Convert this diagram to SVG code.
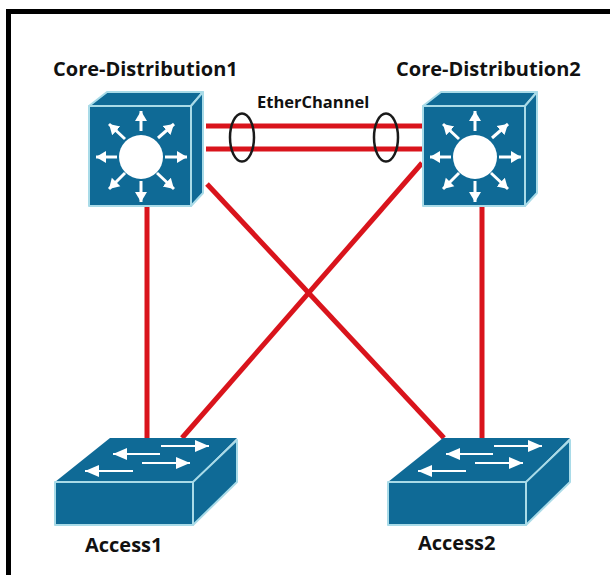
<svg xmlns="http://www.w3.org/2000/svg" width="610" height="575" viewBox="0 0 610 575">
<style>
.bg{fill:#fff}
.frame{fill:none;stroke:#000;stroke-width:5}
.b{fill:#0f6a96;stroke:#a9dbe8;stroke-width:2;stroke-linejoin:round}
.t{fill:#0f6a96}
.w{fill:#fff}
.ar{fill:none;stroke:#fff;stroke-width:3}
.as{fill:none;stroke:#fff;stroke-width:2}
.link{stroke:#d9141c;stroke-width:5;fill:none}
.ring{fill:none;stroke:#1a1a1a;stroke-width:2.5}
text{font-family:"Open Sans","Liberation Sans",sans-serif;font-weight:700;fill:#111}
.n{font-size:20px}
.e{font-size:16.5px}
</style>
<defs>
<marker id="h" markerUnits="userSpaceOnUse" markerWidth="11" markerHeight="14" refX="10" refY="7" orient="auto"><path d="M0 1L10 7L0 13Z" fill="#fff"/></marker>
<marker id="s" markerUnits="userSpaceOnUse" markerWidth="15" markerHeight="12" refX="14" refY="6" orient="auto"><path d="M0 0L14 6L0 12Z" fill="#fff"/></marker>
<g id="core">
<path class="b" d="M0 14L18 0H114L102 14Z"/>
<path class="b" d="M102 14L114 0V101L102 114Z"/>
<rect class="b" x="0" y="14" width="102" height="100"/>
<circle class="w" cx="52" cy="65" r="22"/>
<g class="ar">
<path d="M52 39V19" marker-end="url(#h)"/>
<path d="M52 89V110" marker-end="url(#h)"/>
<path d="M28 65H7" marker-end="url(#h)"/>
<path d="M76 65H98" marker-end="url(#h)"/>
<path d="M36 47L20 32" marker-end="url(#h)"/>
<path d="M69 46L85 32" marker-end="url(#h)"/>
<path d="M36 81L20 97" marker-end="url(#h)"/>
<path d="M68 81L85 97" marker-end="url(#h)"/>
</g>
</g>
<g id="access">
<path class="t" d="M0 44L55 0H182L138 44Z"/>
<path class="b" d="M138 44L182 2V44L138 87Z"/>
<rect class="b" x="0" y="44" width="138" height="43"/>
<g class="as">
<path d="M106 8H154" marker-end="url(#s)"/>
<path d="M105 16H58" marker-end="url(#s)"/>
<path d="M87 25H135" marker-end="url(#s)"/>
<path d="M78 33H30" marker-end="url(#s)"/>
</g>
</g>
</defs>
<rect class="bg" width="610" height="575"/>
<path class="frame" d="M8.5 575V11.5H610"/>
<g id="connectors">
<path class="link" d="M206 126H423M206 149H423"/>
<path class="link" d="M147 206V438"/>
<path class="link" d="M482 206V438"/>
<path class="link" d="M207 184L444 438"/>
<path class="link" d="M422 163L182 438"/>
<ellipse class="ring" cx="242" cy="137.5" rx="12" ry="24"/>
<ellipse class="ring" cx="386" cy="137.5" rx="12" ry="24"/>
</g>
<g id="core1"><use href="#core" x="89" y="92"/><text class="n" x="53" y="76">Core-Distribution1</text></g>
<g id="core2"><use href="#core" x="423" y="92"/><text class="n" x="396" y="76">Core-Distribution2</text></g>
<g id="access1"><use href="#access" x="55" y="438"/><text class="n" x="85" y="552">Access1</text></g>
<g id="access2"><use href="#access" x="388" y="438"/><text class="n" x="418" y="550">Access2</text></g>
<text id="etherchannel" class="e" x="257" y="108">EtherChannel</text>
</svg>
